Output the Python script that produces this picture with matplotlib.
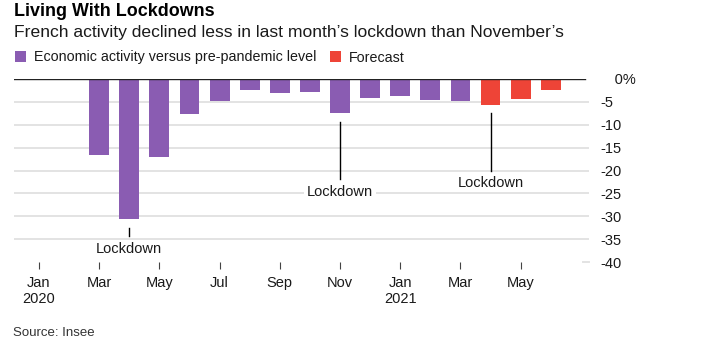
import matplotlib
matplotlib.use("Agg")
import matplotlib.pyplot as plt
from matplotlib.patches import Patch
import numpy as np

months = ["Jan", "Feb", "Mar", "Apr", "May", "Jun", "Jul", "Aug", "Sep", "Oct", "Nov", "Dec",
          "Jan", "Feb", "Mar", "Apr", "May", "Jun"]
actual = [-0.3, -0.1, -16.6, -30.7, -17.1, -7.7, -4.9, -2.3, -3.0, -2.8, -7.5, -4.1,
          -3.8, -4.5, -4.7]
forecast = [-5.6, -4.3, -2.5]
tick_labels = ["Jan\n2020", "Mar", "May", "Jul", "Sep", "Nov", "Jan\n2021", "Mar", "May"]
yticks = [0, -5, -10, -15, -20, -25, -30, -35, -40]
lockdowns = [3, 10, 15]  # indices of lockdown months

PURPLE = "#8a5cb2"
RED = "#ee4437"
TXT = "#1a1a1a"

plt.rcParams["font.family"] = ["Liberation Sans", "DejaVu Sans"]

fig = plt.figure(figsize=(7.21, 3.53), dpi=100)
W, H = 721, 353
ax_left, ax_right, ax_top, ax_bot = 14, 589, 79, 262
ax = fig.add_axes([ax_left / W, 1 - ax_bot / H, (ax_right - ax_left) / W, (ax_bot - ax_top) / H])

x_act = np.arange(len(actual))
x_fc = np.arange(len(actual), len(actual) + len(forecast))
ax.bar(x_act, actual, width=0.66, color=PURPLE, zorder=3)
ax.bar(x_fc, forecast, width=0.66, color=RED, zorder=3)

ax.set_xlim(-0.83, 18.27)
ax.set_ylim(-40, 0)

for v in yticks[1:-1]:
    ax.axhline(v, color="#e3e3e3", lw=1.4, zorder=1)
ax.plot([0.99, 1.0], [-40, -40], transform=ax.get_yaxis_transform(), color="#e3e3e3", lw=1.4, clip_on=False)
ax.axhline(0, xmax=0.993, color="#222222", lw=1.0, zorder=4)

for s in ax.spines.values():
    s.set_visible(False)

ax.yaxis.tick_right()
ax.set_yticks(yticks)
ax.set_yticklabels([("\u2003" + "0%") if v == 0 else str(v) for v in yticks])
ax.tick_params(axis="y", length=0, pad=8, labelsize=10.5, labelcolor=TXT)
for lbl in ax.get_yticklabels():
    lbl.set_horizontalalignment("left")

ax.set_xticks(np.arange(0, 18, 2))
ax.set_xticklabels(tick_labels)
ax.tick_params(axis="x", length=5, width=0.8, color="#444444", pad=5, labelsize=10.5, labelcolor=TXT)

# Lockdown annotations
ann = [
    (3, -32.6, -34.3, -37.2, False),
    (10, -9.3, -21.9, -24.7, True),
    (15, -7.35, -20.0, -22.7, False),
]
for xi, y0, y1, yl, box in ann:
    ax.plot([xi, xi], [y0, y1], color="black", lw=1.0, zorder=5)
    kw = dict(ha="center", va="center", fontsize=10.5, color=TXT, zorder=6)
    if box:
        kw["bbox"] = dict(facecolor="white", edgecolor="none", pad=2)
    ax.text(xi, yl, "Lockdown", **kw)

fig.text(14 / W, 1 - 12 / H, "Living With Lockdowns", fontsize=12.9, fontweight="bold",
         color="black", va="center", ha="left")
fig.text(14 / W, 1 - 33 / H, "French activity declined less in last month\u2019s lockdown than November\u2019s",
         fontsize=12.6, color=TXT, va="center", ha="left")

handles = [Patch(facecolor=PURPLE, label="Economic activity versus pre-pandemic level"),
           Patch(facecolor=RED, label="Forecast")]
fig.legend(handles=handles, loc="center left", bbox_to_anchor=(15 / W, 1 - 57.5 / H), ncol=2,
           frameon=False, handlelength=0.75, handleheight=0.75, handletextpad=0.55,
           columnspacing=1.0, fontsize=10.25, labelcolor=TXT, borderpad=0, borderaxespad=0)

fig.text(13 / W, 1 - 333 / H, "Source: Insee", fontsize=9.5, color="#333333", va="center", ha="left")

fig.savefig("out.png", dpi=100)
